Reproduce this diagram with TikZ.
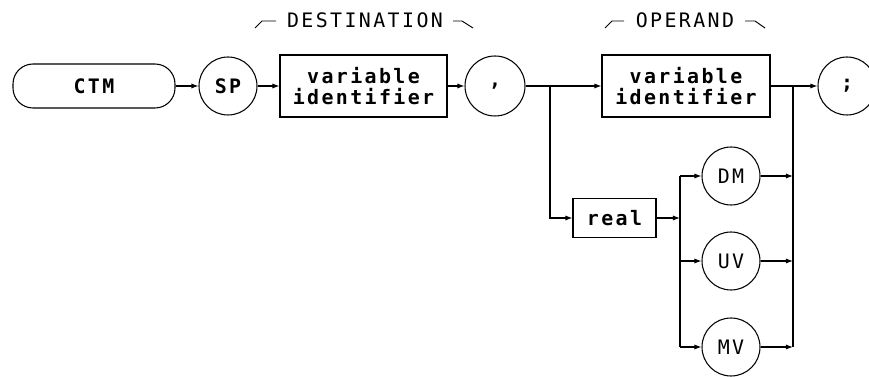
\documentclass[tikz,border=0pt]{standalone}
\usepackage{fontspec}
\newfontfamily\plotfont[LetterSpace=12]{DejaVu Sans Mono}
\usetikzlibrary{arrows.meta}

\begin{document}
\begin{tikzpicture}[x=0.03cm, y=-0.03cm, line width=0.9pt, >={Latex[length=6pt,width=4.4pt]},
    txt/.style={font=\plotfont\fontsize{17}{18}\selectfont\bfseries, align=center, inner sep=0pt},
    term/.style={txt, draw, circle, minimum size=1.74cm},
    slot/.style={txt, draw, rectangle, minimum height=1.86cm}]
    \useasboundingbox (0,0) rectangle (869,377);

    % -- Ligne principale --
    \node[txt, draw, rounded corners=0.6cm, minimum width=4.86cm, minimum height=1.32cm] (ctm) at (94,86) {CTM};
    \node[term] (sp) at (228,86) {SP};
    \node[slot, minimum width=5.01cm] (var1) at (363.5,86) {variable\\identifier};
    \node[term, minimum size=1.8cm] (comma) at (495,86) {,};
    \node[slot, minimum width=5.04cm] (var2) at (686,86) {variable\\identifier};
    \node[term] (semi) at (847,86) {;};

    % Titres des champs
    \node[txt, font=\plotfont\fontsize{17}{18}\selectfont] (dest) at (365,20) {DESTINATION};
    \node[txt, font=\plotfont\fontsize{17}{18}\selectfont] (oper) at (685,20) {OPERAND};
    \draw[line width=0.8pt] (255,28) -- (262,21) -- (276,21);
    \draw[line width=0.8pt] (453,21) -- (462,21) -- (473,28);
    \draw[line width=0.8pt] (605,28) -- (612,21) -- (624,21);
    \draw[line width=0.8pt] (745,21) -- (755,21) -- (765,28);

    % -- Branche basse : real + unites --
    \node[slot, minimum width=2.49cm, minimum height=1.17cm] (real) at (614.5,218) {real};
    \node[term, font=\plotfont\fontsize{17}{18}\selectfont] (dm) at (731,176) {DM};
    \node[term, font=\plotfont\fontsize{17}{18}\selectfont] (uv) at (731,261) {UV};
    \node[term, font=\plotfont\fontsize{17}{18}\selectfont] (mv) at (731,347) {MV};

    % Points de jonction
    \coordinate (jsplit) at (550,86);
    \coordinate (jend) at (793,86);
    \coordinate (junit) at (680,218);

    % Connexions
    \draw[->] (ctm) -- (sp);
    \draw[->] (sp) -- (var1);
    \draw[->] (var1) -- (comma);
    \draw (comma) -- (jsplit);
    \draw[->] (jsplit) -- (var2);
    \draw[->] (jsplit) |- (real);
    \draw (var2) -- (jend);
    \draw[->] (jend) -- (semi);
    \draw[->] (real) -- (junit);
    \draw (junit |- dm) -- (junit |- mv);
    \draw (jend) -- (jend |- mv);
    \foreach \u in {dm,uv,mv} {
        \draw[->] (junit |- \u) -- (\u);
        \draw[->] (\u) -- (jend |- \u);
    }
\end{tikzpicture}
\end{document}
